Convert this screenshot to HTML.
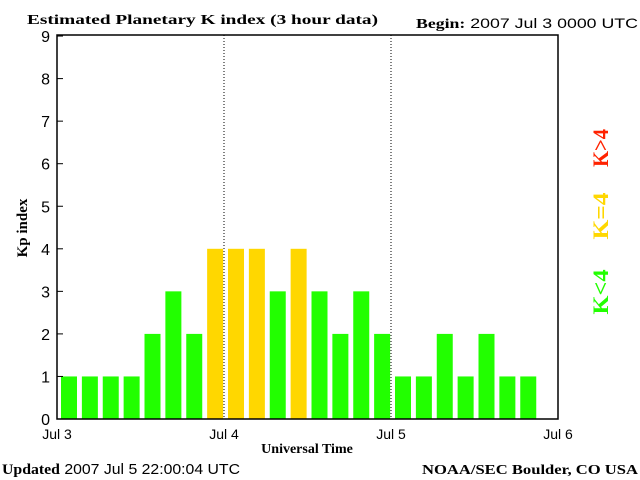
<!DOCTYPE html>
<html><head><meta charset="utf-8"><style>
body{margin:0;background:#fff}
svg{display:block}
text{font-family:"Liberation Sans",sans-serif;fill:#000}
.s{font-family:"Liberation Serif",serif;font-weight:bold}
</style></head><body>
<svg id="c" width="640" height="480" viewBox="0 0 640 480">
<text class="s" x="27" y="24" font-size="14" textLength="351" lengthAdjust="spacingAndGlyphs">Estimated Planetary K index (3 hour data)</text>
<text x="416" y="28" font-size="14" textLength="222" lengthAdjust="spacingAndGlyphs"><tspan class="s">Begin:</tspan> 2007 Jul 3 0000 UTC</text>
<g id="bars"></g>
<rect x="57" y="35" width="501" height="384" fill="none" stroke="#000" stroke-width="1.5"/>
<g id="axes"></g>
<text class="s" x="0" y="0" font-size="15" transform="translate(27,228) rotate(-90)" text-anchor="middle">Kp index</text>
<text class="s" x="307" y="453" font-size="14" text-anchor="middle">Universal Time</text>
<text x="2" y="474" font-size="15" textLength="238" lengthAdjust="spacingAndGlyphs"><tspan class="s">Updated</tspan> 2007 Jul  5 22:00:04 UTC</text>
<text class="s" x="422" y="474" font-size="14" textLength="216" lengthAdjust="spacingAndGlyphs">NOAA/SEC Boulder, CO USA</text>
<text class="s" font-size="22" style="fill:#ff2200" transform="translate(608,148) rotate(-90)" text-anchor="middle" textLength="38" lengthAdjust="spacingAndGlyphs">K&gt;4</text>
<text class="s" font-size="22" style="fill:#ffd700" transform="translate(608,216) rotate(-90)" text-anchor="middle" textLength="47" lengthAdjust="spacingAndGlyphs">K=4</text>
<text class="s" font-size="22" style="fill:#22ff00" transform="translate(608,292) rotate(-90)" text-anchor="middle" textLength="45" lengthAdjust="spacingAndGlyphs">K&lt;4</text>
</svg>
<script>
const kpValues=[1,1,1,1,2,3,2,4,4,4,3,4,3,2,3,2,1,1,2,1,2,1,1];
const yTicks=[0,1,2,3,4,5,6,7,8,9];
const dayLabels=["Jul 3","Jul 4","Jul 5","Jul 6"];
const NS="http://www.w3.org/2000/svg";
const x0=57,dayW=167,slotW=dayW/8;
const yS=v=>419-v*42.55;
const xS=i=>x0+i*slotW;
const bars=document.getElementById('bars'),axes=document.getElementById('axes');
function mk(t,a,p){const e=document.createElementNS(NS,t);for(const k in a)e.setAttribute(k,a[k]);p.appendChild(e);return e;}
kpValues.forEach((v,i)=>{
 const c=v>4?'#ff2200':(v==4?'#ffd700':'#22ff00');
 const r=mk('rect',{x:xS(i)+4,y:yS(v),width:16,height:419-yS(v),fill:c},bars);
 
 
});
yTicks.forEach(t=>{
 const y=yS(t);
 const l=mk('line',{x1:57,x2:63,y1:y,y2:y,stroke:'#000'},axes);
 
 
 const tx=mk('text',{x:50,y:y+6,'font-size':16,'text-anchor':'end'},axes);
 tx.textContent=t;
 
 
});
dayLabels.forEach((d,i)=>{
 const x=x0+i*dayW;
 if(i>0&&i<3){const l=mk('line',{x1:x,x2:x,y1:35,y2:419,stroke:'#000','stroke-dasharray':'1,2'},axes);
 
 }
 const tx=mk('text',{x:x,y:439,'font-size':14,'text-anchor':'middle'},axes);
 tx.textContent=d;
 
 
});
</script>
</body></html>
